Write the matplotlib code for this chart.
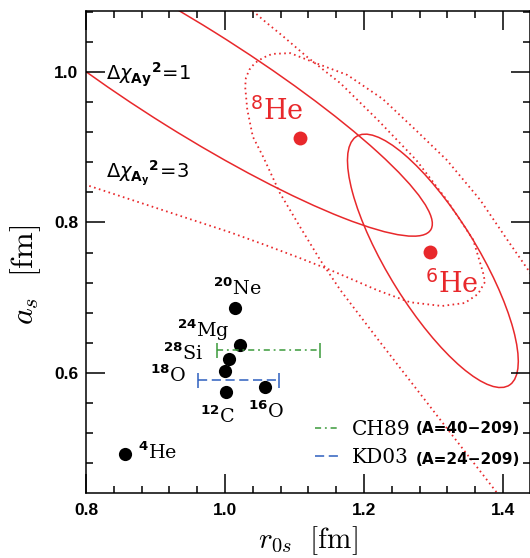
import matplotlib
matplotlib.use("Agg")
import matplotlib.pyplot as plt
from matplotlib.patches import Ellipse
from matplotlib.lines import Line2D
from matplotlib.ticker import MultipleLocator

red = '#e8282b'
green = '#3a9a3a'
blue = '#2d5fbf'

# stable nuclei (black dots)
nuc_mass = ['4', '12', '16', '18', '28', '24', '20']
nuc_sym = ['He', 'C', 'O', 'O', 'Si', 'Mg', 'Ne']
nuc_r0s = [0.856, 1.001, 1.058, 1.000, 1.006, 1.022, 1.015]
nuc_as = [0.492, 0.575, 0.581, 0.602, 0.619, 0.637, 0.686]
# label spots (left edge, baseline)
lab_r0s = [0.875, 0.964, 1.033, 0.892, 0.911, 0.931, 0.983]
lab_as = [0.486, 0.534, 0.540, 0.588, 0.617, 0.648, 0.704]

# helium isotopes, best fit
he_mass = ['8', '6']
he_r0s = [1.108, 1.295]
he_as = [0.912, 0.761]
he_lab_r0s = [1.036, 1.288]
he_lab_as = [0.936, 0.706]

# delta chi2 = 1 contours (ellipses: centre, full axes, angle)
ell_x = [0.950, 1.299]
ell_y = [0.991, 0.749]
ell_w = [0.800, 0.397]
ell_h = [0.142, 0.127]
ell_ang = [-30.0, -56.0]

# delta chi2 = 3 contours
c8_r0s = [0.784, 0.800, 1.007, 1.058, 1.104, 1.151, 1.219, 1.266, 1.312, 1.345,
          1.364, 1.374, 1.371, 1.357, 1.319, 1.275, 1.220, 1.166, 1.118, 1.084,
          1.055, 1.039, 1.027]
c8_as = [0.855, 0.850, 0.787, 0.770, 0.754, 0.737, 0.710, 0.694, 0.689, 0.693,
         0.705, 0.721, 0.734, 0.777, 0.830, 0.883, 0.936, 0.985, 1.020, 1.047,
         1.069, 1.082, 1.093]
c6_r0s = [1.468, 1.439, 1.406, 1.367, 1.319, 1.273, 1.227, 1.176, 1.127, 1.094,
          1.068, 1.055, 1.043, 1.035, 1.030, 1.029, 1.032, 1.040, 1.055, 1.079,
          1.108, 1.137, 1.166, 1.223, 1.281, 1.338, 1.391, 1.410]
c6_as = [0.694, 0.733, 0.777, 0.830, 0.883, 0.924, 0.964, 0.996, 1.013, 1.025,
         1.024, 1.019, 1.012, 1.003, 0.992, 0.980, 0.950, 0.914, 0.887, 0.839,
         0.794, 0.750, 0.710, 0.641, 0.572, 0.504, 0.441, 0.418]

# global systematics
gl_names = ['CH89', 'KD03']
gl_ranges = ['(A=40\u2212209)', '(A=24\u2212209)']
gl_r0s = [1.063, 1.019]
gl_dr0s = [0.074, 0.058]
gl_as = [0.631, 0.591]
gl_colors = [green, blue]
gl_ls = [(0, (4, 2.5, 1.2, 2.5)), (0, (6, 3))]

x_ticks = [0.8, 1.0, 1.2, 1.4]
y_ticks = [0.6, 0.8, 1.0]

fig = plt.figure(figsize=(5.30, 5.58), dpi=100)
ax = fig.add_axes([86 / 530, 65 / 558, 443.5 / 530, 482 / 558])

for x, y, w, h, a in zip(ell_x, ell_y, ell_w, ell_h, ell_ang):
    ax.add_patch(Ellipse((x, y), w, h, angle=a, fill=False, ec=red, lw=1.1))
ax.plot(c8_r0s, c8_as, color=red, lw=1.3, dashes=(0.9, 1.9))
ax.plot(c6_r0s, c6_as, color=red, lw=1.3, dashes=(0.9, 1.9))

ax.plot(he_r0s, he_as, 'o', color=red, ms=10, mec='none')
for m, x, y in zip(he_mass, he_lab_r0s, he_lab_as):
    ax.text(x, y, r'$^{%s}$He' % m, color=red, fontsize=19.5, family='DejaVu Serif',
            math_fontfamily='dejavusans', va='baseline')

ax.plot(nuc_r0s, nuc_as, 'o', color='black', ms=9.5, mec='none')
for m, s, x, y in zip(nuc_mass, nuc_sym, lab_r0s, lab_as):
    ax.text(x, y, r'$^{\mathbf{%s}}$%s' % (m, s), fontsize=13.8, family='DejaVu Serif',
            math_fontfamily='dejavusans', va='baseline')

handles = []
for x, dx, y, c, ls in zip(gl_r0s, gl_dr0s, gl_as, gl_colors, gl_ls):
    eb = ax.errorbar(x, y, xerr=dx, fmt='none', ecolor=c, elinewidth=1.1,
                     capsize=5.4, capthick=1.1)
    eb[2][0].set_linestyle(ls)
    handles.append(Line2D([], [], color=c, lw=1.1, linestyle=ls))

ax.text(0.829, 0.989, r'$\Delta\chi_{\mathbf{Ay}}{}^{\mathbf{2}}\!=\!1$', fontsize=14,
        math_fontfamily='dejavusans', va='baseline')
ax.text(0.829, 0.859, r'$\Delta\chi_{\mathbf{A}_{\mathbf{y}}}{}^{\mathbf{2}}\!=\!3$', fontsize=14,
        math_fontfamily='dejavusans', va='baseline')

# legend: short name in serif, mass range in small bold sans next to it
leg = ax.legend(handles, gl_names, loc='center left', bbox_to_anchor=(0.516, 0.103),
                frameon=False, handlelength=1.25, handletextpad=0.6, labelspacing=0.45,
                borderpad=0, borderaxespad=0, prop={'family': 'DejaVu Serif', 'size': 14.5})
for r, yb in zip(gl_ranges, [0.124, 0.061]):
    ax.text(0.744, yb, r, transform=ax.transAxes, ha='left', va='baseline',
            fontsize=11, fontweight='bold', family='DejaVu Sans')

ax.set_xlim(0.8, 1.438)
ax.set_ylim(0.4405, 1.081)
ax.set_xticks(x_ticks, ['%.1f' % v for v in x_ticks], fontweight='bold',
              family='Liberation Sans', fontsize=12.5)
ax.set_yticks(y_ticks, ['%.1f' % v for v in y_ticks], fontweight='bold',
              family='Liberation Sans', fontsize=12.5)
ax.xaxis.set_minor_locator(MultipleLocator(0.04))
ax.yaxis.set_minor_locator(MultipleLocator(0.04))
ax.tick_params(which='both', direction='in', top=True, right=True, width=1.1)
ax.tick_params(which='major', length=14)
ax.tick_params(which='minor', length=5)
ax.tick_params(axis='x', pad=7)
ax.tick_params(axis='y', pad=5.5)
for sp in ax.spines.values():
    sp.set_linewidth(1.1)

ax.set_xlabel(r'$r_{0s}\ \ [\mathrm{fm}]$', fontsize=21, math_fontfamily='cm')
ax.set_ylabel(r'$a_s\ \ [\mathrm{fm}]$', fontsize=23, math_fontfamily='cm')
ax.xaxis.set_label_coords(0.5, -0.064)
ax.yaxis.set_label_coords(-0.097, 0.452)

fig.savefig('out.png', dpi=100)
